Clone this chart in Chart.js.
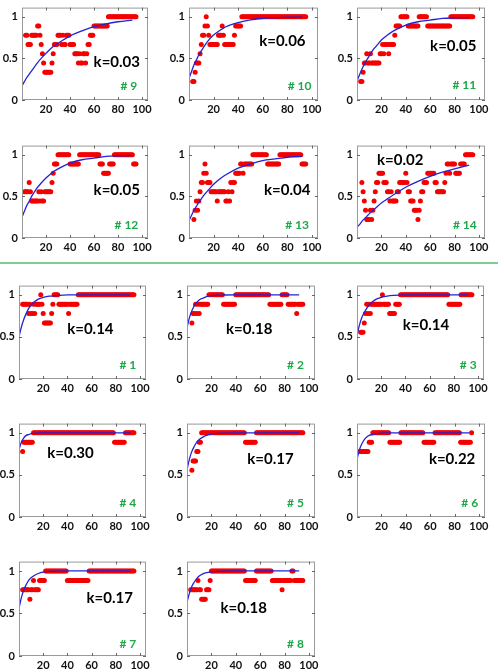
<!DOCTYPE html>
<html>
<head>
<meta charset="utf-8">
<script src="https://cdn.jsdelivr.net/npm/chart.js@4.4.0/dist/chart.umd.min.js"></script>
<style>
    body { margin: 0; background: #fff; width: 498px; height: 670px; position: relative; overflow: hidden; }
    canvas { position: absolute; }
    .sep { position: absolute; left: 0; top: 262px; width: 498px; height: 2px; background: #7ccf94; }
</style>
</head>
<body>
<div class="sep"></div>
<script>
// Red dots: level in ninths for consecutive x, starting at the given x.
// 'L*n' means level L repeated n times.
const dots9  = '7*2 6*3 7*5 8*2 7 6 5 4 3*6 4 5 6*3 7*3 6 7 6*2 7*3 6*4 5*3 4 5 4*2 5*2 4 5 6*2 7*3 8*12 9*24';
const dots10 = '2*2 3 4*3 5 6 7*2 8 9 8 7 6*7 7*3 8 7 6*8 7 8*5 9*53';
const dots11 = '2*2 3 4*2 5 4*2 5 4*7 5*2 6 5 6*3 5 6*4 7 8*4 9*6 8*9 9*7 8*19 9*19';
const dots12 = '5*4 6 5 4*6 5 4 5 4*2 5*6 6 7 8*3 9*10 8*8 9*17 8*3 7*5 8*4 9*16 8*3';
const dots13 = '2 3 4 3 4 5 6*2 7 8 7 6*3 5*5 4 5*6 4*2 5 4 6 5 6*2 7*4 8*2 7 8*7 9*12 8*10 9*18 8*4';
const dots14 = '6 5 4 3 2*3 3 2 3 4 5 6*2 7*4 6*3 5*2 4 5 4*4 5*2 6*5 7 6 5*2 4*3 3*3 2 3 4 5*2 6*3 7*6 6*2 5*6 6 7 8*2 7 8*4 7*4 8*4 9*7';
const dots1  = '8*5 7 8 7*2 8 7 8*4 9 8 7 6*6 7 8 9*4 8*8 7 8*7 9*47';
const dots2  = '6 7*2 8 7 8 7 8*7 9*12 8*10 9*28 8*10 9*5 8*7 7 8*5';
const dots3  = '5*3 6 7 8 7 8 7 8*9 9 8*5 7*5 8*4 9*40 8*10 9*10';
const dots4  = '7 8*8 9*67 8*9 9*8';
const dots5  = '5 6*3 7*2 8*2 9*36 8*9 9*39';
const dots6  = '7*8 8*3 9*14 8*9 9*19 8*9 9*21 8*9 9';
const dots7  = '7*6 6 7*2 8 7*4 8*5 9*18 8*18 9*38';
const dots8  = '7*6 8 7*2 6*4 7*3 8 9*28 8*9 9*13 8*8 7 8*7 9*2 8*8';

// Blue fitted curves, read at these x positions
const curveX  = [0, 2, 4, 6, 8, 10, 13, 16, 20, 25, 30, 40, 50, 60, 70, 80, 92];
const curve9  = [0.17, 0.22, 0.27, 0.31, 0.35, 0.39, 0.45, 0.50, 0.56, 0.63, 0.68, 0.77, 0.83, 0.88, 0.915, 0.94, 0.96];
const curve10 = [0.26, 0.34, 0.42, 0.48, 0.54, 0.59, 0.66, 0.72, 0.78, 0.835, 0.88, 0.93, 0.963, 0.98, 0.99, 0.994, 0.997];
const curve11 = [0.23, 0.30, 0.37, 0.43, 0.48, 0.53, 0.60, 0.65, 0.72, 0.78, 0.83, 0.90, 0.94, 0.96, 0.98, 0.986, 0.99];
const curve12 = [0.25, 0.32, 0.39, 0.44, 0.50, 0.545, 0.61, 0.66, 0.72, 0.785, 0.83, 0.90, 0.94, 0.96, 0.98, 0.987, 0.99];
const curve13 = [0.21, 0.27, 0.33, 0.38, 0.43, 0.47, 0.53, 0.58, 0.645, 0.71, 0.76, 0.84, 0.89, 0.93, 0.95, 0.97, 0.98];
const curve14 = [0.13, 0.16, 0.20, 0.23, 0.26, 0.29, 0.33, 0.37, 0.42, 0.47, 0.52, 0.61, 0.68, 0.74, 0.79, 0.83, 0.875];
const curve1  = [0.50, 0.62, 0.71, 0.78, 0.84, 0.88, 0.92, 0.95, 0.97, 0.985, 0.99, 1, 1, 1, 1, 1, 1];
const curve2  = [0.61, 0.73, 0.81, 0.87, 0.91, 0.94, 0.96, 0.98, 0.99, 0.996, 0.998, 1, 1, 1, 1, 1, 1];
const curve3  = [0.52, 0.64, 0.73, 0.79, 0.84, 0.88, 0.92, 0.95, 0.97, 0.985, 0.993, 1, 1, 1, 1, 1, 1];
const curve4  = [0.80, 0.89, 0.94, 0.97, 0.98, 0.99, 0.996, 0.998, 1, 1, 1, 1, 1, 1, 1, 1, 1];
const curve5  = [0.56, 0.69, 0.78, 0.84, 0.89, 0.92, 0.95, 0.97, 0.985, 0.994, 0.997, 1, 1, 1, 1, 1, 1];
const curve6  = [0.69, 0.80, 0.87, 0.92, 0.95, 0.97, 0.98, 0.99, 0.996, 1, 1, 1, 1, 1, 1, 1, 1];
const curve7  = [0.56, 0.69, 0.78, 0.84, 0.89, 0.92, 0.95, 0.97, 0.985, 0.994, 0.997, 1, 1, 1, 1, 1, 1];
const curve8  = [0.63, 0.74, 0.82, 0.87, 0.91, 0.94, 0.965, 0.98, 0.99, 0.996, 0.998, 1, 1, 1, 1, 1, 1];

const xTicks = [20, 40, 60, 80, 100];
const yTicks = [0, 0.5, 1];

// Panel layout: plot box [left, top, right, bottom] and label spots in data units
const panels = [
    { id: 9,  start: 3, dots: dots9,  curve: curve9,  k: 'k=0.03', box: [22, 1, 148, 100],   kAt: [79, 0.455], tagAt: [89, 0.17] },
    { id: 10, start: 3, dots: dots10, curve: curve10, k: 'k=0.06', box: [189, 1, 318, 100],  kAt: [76, 0.71],  tagAt: [90, 0.17] },
    { id: 11, start: 3, dots: dots11, curve: curve11, k: 'k=0.05', box: [357, 1, 485, 100],  kAt: [79, 0.65],  tagAt: [88, 0.18] },
    { id: 12, start: 2, dots: dots12, curve: curve12, k: 'k=0.05', box: [22, 139, 148, 238], kAt: [79, 0.58],  tagAt: [87, 0.15] },
    { id: 13, start: 4, dots: dots13, curve: curve13, k: 'k=0.04', box: [189, 139, 318, 238], kAt: [80, 0.57], tagAt: [88, 0.15] },
    { id: 14, start: 4, dots: dots14, curve: curve14, k: 'k=0.02', box: [357, 139, 485, 238], kAt: [35.5, 0.94], tagAt: [88.5, 0.15] },
    { id: 1,  start: 3, dots: dots1,  curve: curve1,  k: 'k=0.14', box: [19, 279, 146, 379], kAt: [59, 0.59],  tagAt: [90, 0.17] },
    { id: 2,  start: 4, dots: dots2,  curve: curve2,  k: 'k=0.18', box: [187, 279, 315, 379], kAt: [51, 0.59], tagAt: [89, 0.17] },
    { id: 3,  start: 3, dots: dots3,  curve: curve3,  k: 'k=0.14', box: [357, 279, 484, 379], kAt: [57, 0.64], tagAt: [92, 0.17] },
    { id: 4,  start: 3, dots: dots4,  curve: curve4,  k: 'k=0.30', box: [19, 417, 146, 517], kAt: [42.5, 0.76], tagAt: [90, 0.16] },
    { id: 5,  start: 4, dots: dots5,  curve: curve5,  k: 'k=0.17', box: [187, 417, 315, 517], kAt: [68.5, 0.69], tagAt: [89, 0.16] },
    { id: 6,  start: 2, dots: dots6,  curve: curve6,  k: 'k=0.22', box: [357, 417, 485, 517], kAt: [78, 0.69], tagAt: [92.5, 0.16] },
    { id: 7,  start: 3, dots: dots7,  curve: curve7,  k: 'k=0.17', box: [19, 555, 146, 656], kAt: [75, 0.68],  tagAt: [90, 0.145] },
    { id: 8,  start: 3, dots: dots8,  curve: curve8,  k: 'k=0.18', box: [187, 555, 315, 656], kAt: [46.5, 0.56], tagAt: [89, 0.145] }
];

const FONT = 'Lato, "Open Sans", sans-serif';
const PAD = { left: 30, top: 4, right: 8, bottom: 18 };

function expandDots(start, spec) {
    const pts = [];
    let x = start;
    spec.split(' ').forEach(tok => {
        const [lv, n] = tok.split('*');
        const count = n ? parseInt(n, 10) : 1;
        for (let i = 0; i < count; i++) {
            pts.push({ x: x++, y: parseInt(lv, 10) / 9 });
        }
    });
    return pts;
}

// Frame, inward ticks and the panel texts
const panelDecor = {
    id: 'panelDecor',
    afterDatasetsDraw(chart, args, opts) {
        const { ctx, chartArea: a, scales } = chart;
        ctx.save();
        ctx.strokeStyle = '#9a9a9a';
        ctx.lineWidth = 1;
        ctx.strokeRect(a.left + 0.5, a.top + 0.5, a.right - a.left - 1, a.bottom - a.top - 1);
        ctx.strokeStyle = '#666';
        ctx.beginPath();
        xTicks.forEach(v => {
            const px = Math.round(scales.x.getPixelForValue(v)) + 0.5;
            ctx.moveTo(px, a.bottom); ctx.lineTo(px, a.bottom - 3);
            ctx.moveTo(px, a.top); ctx.lineTo(px, a.top + 3);
        });
        yTicks.forEach(v => {
            const py = Math.round(scales.y.getPixelForValue(v)) + 0.5;
            ctx.moveTo(a.left, py); ctx.lineTo(a.left + 3, py);
            ctx.moveTo(a.right, py); ctx.lineTo(a.right - 3, py);
        });
        ctx.stroke();

        ctx.textAlign = 'center';
        ctx.textBaseline = 'middle';
        ctx.fillStyle = '#000';
        ctx.font = 'bold 15px ' + FONT;
        ctx.fillText(opts.k, scales.x.getPixelForValue(opts.kAt[0]), scales.y.getPixelForValue(opts.kAt[1]));
        ctx.fillStyle = '#1ea84a';
        ctx.font = 'bold 12px ' + FONT;
        ctx.fillText('# ' + opts.id, scales.x.getPixelForValue(opts.tagAt[0]), scales.y.getPixelForValue(opts.tagAt[1]));
        ctx.restore();
    }
};

function createPanel(p) {
    const [l, t, r, b] = p.box;
    const canvas = document.createElement('canvas');
    const w = (r - l) + PAD.left + PAD.right;
    const h = (b - t) + PAD.top + PAD.bottom;
    canvas.width = w;
    canvas.height = h;
    canvas.style.width = w + 'px';
    canvas.style.height = h + 'px';
    canvas.style.left = (l - PAD.left) + 'px';
    canvas.style.top = (t - PAD.top) + 'px';
    document.body.appendChild(canvas);

    const curvePts = curveX.map((x, i) => ({ x: x, y: p.curve[i] }));
    const tickFont = { size: 11, weight: 'bold', family: FONT };

    return new Chart(canvas, {
        type: 'scatter',
        data: {
            datasets: [
                {
                    type: 'line',
                    data: curvePts,
                    showLine: true,
                    borderColor: '#2323d2',
                    borderWidth: 1.3,
                    pointRadius: 0,
                    cubicInterpolationMode: 'monotone',
                    fill: false,
                    order: 0
                },
                {
                    data: expandDots(p.start, p.dots),
                    backgroundColor: '#f40000',
                    borderWidth: 0,
                    pointRadius: 2.5,
                    order: 1
                }
            ]
        },
        options: {
            responsive: false,
            animation: false,
            events: [],
            layout: { padding: { left: 0, top: PAD.top, right: PAD.right, bottom: 0 } },
            plugins: {
                legend: { display: false },
                tooltip: { enabled: false },
                panelDecor: { k: p.k, id: p.id, kAt: p.kAt, tagAt: p.tagAt }
            },
            scales: {
                x: {
                    type: 'linear',
                    min: 0,
                    max: 105,
                    afterBuildTicks: s => { s.ticks = xTicks.map(v => ({ value: v })); },
                    afterFit: s => { s.height = PAD.bottom; },
                    grid: { display: false, drawTicks: false },
                    border: { display: false },
                    ticks: { padding: 3, color: '#111', font: tickFont, maxRotation: 0, autoSkip: false }
                },
                y: {
                    type: 'linear',
                    min: 0,
                    max: 1.11,
                    afterBuildTicks: s => { s.ticks = yTicks.map(v => ({ value: v })); },
                    afterFit: s => { s.width = PAD.left; },
                    grid: { display: false, drawTicks: false },
                    border: { display: false },
                    ticks: { padding: 4, color: '#111', font: tickFont, callback: v => String(v) }
                }
            }
        },
        plugins: [panelDecor]
    });
}

panels.forEach(createPanel);
</script>
</body>
</html>
